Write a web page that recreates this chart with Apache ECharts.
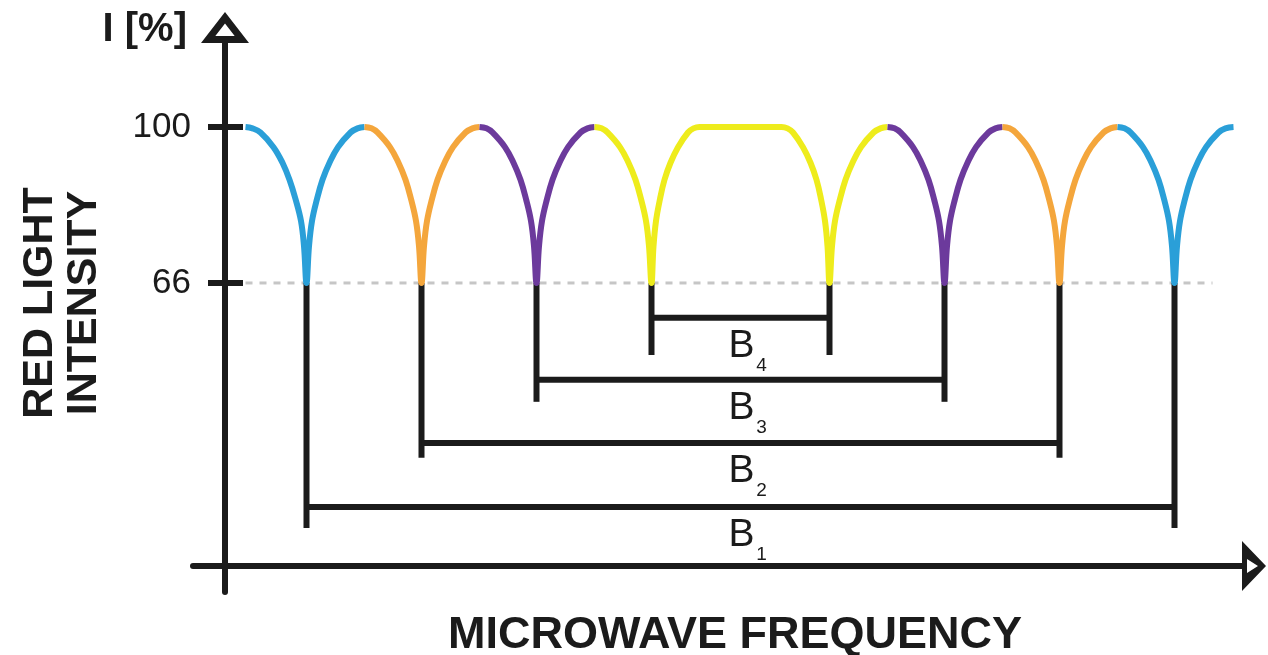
<!DOCTYPE html>
<html>
<head>
<meta charset="utf-8">
<title>ODMR spectrum</title>
<script src="https://cdn.jsdelivr.net/npm/echarts@6/dist/echarts.min.js"></script>
<style>
  html, body { margin: 0; padding: 0; background: #ffffff; }
  #chart { width: 1268px; height: 655px; }
</style>
</head>
<body>
<div id="chart"></div>
<script>
// Red fluorescence vs. microwave frequency (MHz): eight resonance dips,
// paired symmetrically around the zero-field line into four splittings B1..B4.

// Resonance (dip) frequencies, low to high
const resonances = [2436, 2551, 2666, 2781, 2959, 3074, 3189, 3304];
// Intensity at the bottom of each dip, and the 100 % level
const dipLevel = 66;
const yTicks = [66, 100];

// Spectrum, split into coloured pieces from peak to peak: [frequency, intensity %]
const blueLow = [[2375,100],[2382,99.7],[2390,98.8],[2403,95.6],[2412,92.2],[2419,88.5],[2425,84.3],[2430.5,79.5],[2433.5,74],[2436,66],
  [2438.5,74],[2441.5,79.5],[2446.5,84.3],[2452,88.5],[2459,92.2],[2467.5,95.6],[2480,98.8],[2487,99.7],[2494,100]];
const orangeLow = [[2494,100],[2501,99.7],[2507,98.8],[2519.5,95.6],[2528,92.2],[2535,88.5],[2540.5,84.3],[2545.5,79.5],[2548.5,74],[2551,66],
  [2553.5,74],[2556.5,79.5],[2561.5,84.3],[2567,88.5],[2574,92.2],[2582.5,95.6],[2595,98.8],[2602,99.7],[2609,100]];
const purpleLow = [[2609,100],[2616,99.7],[2622,98.8],[2634.5,95.6],[2643,92.2],[2650,88.5],[2655.5,84.3],[2660.5,79.5],[2663.5,74],[2666,66],
  [2668.5,74],[2671.5,79.5],[2676.5,84.3],[2682,88.5],[2689,92.2],[2697.5,95.6],[2710,98.8],[2717,99.7],[2724,100]];
const yellowMid = [[2724,100],[2731,99.7],[2737,98.8],[2749.5,95.6],[2758,92.2],[2765,88.5],[2770.5,84.3],[2775.5,79.5],[2778.5,74],[2781,66],
  [2783,74],[2785.5,79.5],[2789.5,84.3],[2794,88.5],[2800,92.2],[2807.5,95.6],[2817.5,98.8],[2823,99.7],[2829,100],
  [2870,100],
  [2911,100],[2917,99.7],[2922.5,98.8],[2932.5,95.6],[2940,92.2],[2946,88.5],[2950.5,84.3],[2954.5,79.5],[2957,74],[2959,66],
  [2961.5,74],[2964.5,79.5],[2969.5,84.3],[2975,88.5],[2982,92.2],[2990.5,95.6],[3003,98.8],[3010,99.7],[3017,100]];
const purpleHigh = [[3017,100],[3024,99.7],[3030,98.8],[3042.5,95.6],[3051,92.2],[3058,88.5],[3063.5,84.3],[3068.5,79.5],[3071.5,74],[3074,66],
  [3076.5,74],[3079.5,79.5],[3084.5,84.3],[3090,88.5],[3097,92.2],[3105.5,95.6],[3118,98.8],[3125,99.7],[3132,100]];
const orangeHigh = [[3132,100],[3139,99.7],[3145,98.8],[3157.5,95.6],[3166,92.2],[3173,88.5],[3178.5,84.3],[3183.5,79.5],[3186.5,74],[3189,66],
  [3191.5,74],[3194.5,79.5],[3199.5,84.3],[3205,88.5],[3212,92.2],[3220.5,95.6],[3233,98.8],[3240,99.7],[3247,100]];
const blueHigh = [[3247,100],[3254,99.7],[3260,98.8],[3272.5,95.6],[3281,92.2],[3288,88.5],[3293.5,84.3],[3298.5,79.5],[3301.5,74],[3304,66],
  [3306.5,74],[3309.5,79.5],[3314.5,84.3],[3320,88.5],[3327,92.2],[3335.5,95.6],[3348,98.8],[3355,99.7],[3363,100]];

// Dashed reference level through the dip bottoms
const refLine = [[2375, 66], [3342, 66]];

// Splitting brackets B1..B4 (outer to inner): bar and tail levels in intensity units
const splitIndex = [1, 2, 3, 4];
const barLevel = [17.2, 31.1, 44.9, 58.4];
const tailLevel = [12.6, 27.9, 40.1, 50.3];

const INK = '#1b1b1b';
const FONT = '"Liberation Sans", Arial, Helvetica, sans-serif';
const COLORS = { blue: '#2a9fd8', orange: '#f4a63c', purple: '#6c3a9c', yellow: '#eeec1c' };

const brackets = splitIndex.map((n, i) => [
  resonances[i], resonances[resonances.length - 1 - i], barLevel[i], tailLevel[i], n
]);

function curve(name, data, color) {
  return {
    name, type: 'line', data, symbol: 'none', showSymbol: false, silent: true, z: 4,
    smooth: 0.4,
    lineStyle: { color, width: 6, cap: 'butt', join: 'round' }
  };
}

const chart = echarts.init(document.getElementById('chart'), null, { renderer: 'canvas' });

const option = {
  animation: false,
  backgroundColor: '#ffffff',
  grid: { left: 193, right: 26, top: 43, bottom: 63, containLabel: false, outerBoundsMode: 'none' },
  xAxis: {
    type: 'value', min: 2322.5, max: 3371.5, position: 'bottom', offset: -26,
    axisLine: {
      show: true, onZero: false,
      lineStyle: { color: INK, width: 6 },
      symbol: ['none', 'path://M25,0 L50,24 L0,24 Z M25,8 L18,19 L32,19 Z'],
      symbolSize: [50, 24], symbolOffset: [0, 12]
    },
    axisTick: { show: false }, axisLabel: { show: false }, splitLine: { show: false },
    name: 'MICROWAVE FREQUENCY', nameLocation: 'middle', nameGap: 47,
    nameTextStyle: { fontSize: 45, fontWeight: 'bold', color: INK, fontFamily: FONT, padding: [0, 0, 0, 35] }
  },
  yAxis: [
    {
      type: 'value', min: -1.35, max: 118.3, position: 'left', offset: -32,
      axisLine: {
        show: true, onZero: false,
        lineStyle: { color: INK, width: 6 },
        symbol: ['none', 'path://M24,0 L48,31 L0,31 Z M24,11.5 L14.3,24 L33.7,24 Z'],
        symbolSize: [48, 31], symbolOffset: [0, 15.5]
      },
      axisTick: { show: true, length: 17, customValues: yTicks, lineStyle: { color: INK, width: 6 } },
      axisLabel: { show: true, customValues: yTicks, margin: 34, fontSize: 35, color: INK, fontFamily: FONT },
      splitLine: { show: false },
      name: 'I [%]', nameLocation: 'end', nameGap: 13,
      nameTextStyle: { fontSize: 40, fontWeight: 'bold', color: INK, fontFamily: FONT,
        align: 'right', verticalAlign: 'middle', padding: [0, 38, 0, 0] }
    },
    {
      type: 'value', min: -1.35, max: 118.3, position: 'left', offset: -32,
      axisLine: { show: false },
      axisTick: { show: true, inside: true, length: 18, customValues: yTicks, lineStyle: { color: INK, width: 6 } },
      axisLabel: { show: false }, splitLine: { show: false }
    }
  ],
  graphic: [{
    type: 'text', x: 62, y: 303, rotation: Math.PI / 2, silent: true,
    style: {
      text: 'RED LIGHT\nINTENSITY', fontSize: 43, fontWeight: 'bold', fontFamily: FONT,
      fill: INK, align: 'center', verticalAlign: 'middle', lineHeight: 44
    }
  }],
  series: [
    {
      name: 'dip level', type: 'line', data: refLine, symbol: 'none', silent: true, z: 1,
      lineStyle: { color: '#c6c6c6', width: 3, type: [7, 7] }
    },
    {
      name: 'splittings', type: 'custom', data: brackets, silent: true, z: 2,
      encode: { x: [0, 1], y: [2, 3] },
      renderItem(params, api) {
        const lo = api.value(0), hi = api.value(1), bar = api.value(2), tail = api.value(3), n = api.value(4);
        const a = api.coord([lo, dipLevel]), b = api.coord([lo, tail]);
        const c = api.coord([hi, dipLevel]), d = api.coord([hi, tail]);
        const y = api.coord([lo, bar])[1];
        const mid = (a[0] + c[0]) / 2;
        const ln = { stroke: INK, lineWidth: 6, fill: null };
        return {
          type: 'group',
          children: [
            { type: 'line', shape: { x1: a[0], y1: a[1], x2: b[0], y2: b[1] }, style: ln },
            { type: 'line', shape: { x1: c[0], y1: c[1], x2: d[0], y2: d[1] }, style: ln },
            { type: 'line', shape: { x1: a[0], y1: y, x2: c[0], y2: y }, style: ln },
            { type: 'text', x: mid + 1, y: y + 28,
              style: { text: 'B', fontSize: 39, fontFamily: FONT, fill: INK, align: 'center', verticalAlign: 'middle' } },
            { type: 'text', x: mid + 21, y: y + 48,
              style: { text: String(n), fontSize: 19, fontFamily: FONT, fill: INK, align: 'center', verticalAlign: 'middle' } }
          ]
        };
      }
    },
    curve('blue low', blueLow, COLORS.blue),
    curve('orange low', orangeLow, COLORS.orange),
    curve('purple low', purpleLow, COLORS.purple),
    curve('yellow', yellowMid, COLORS.yellow),
    curve('purple high', purpleHigh, COLORS.purple),
    curve('orange high', orangeHigh, COLORS.orange),
    curve('blue high', blueHigh, COLORS.blue)
  ]
};

chart.setOption(option);
</script>
</body>
</html>
